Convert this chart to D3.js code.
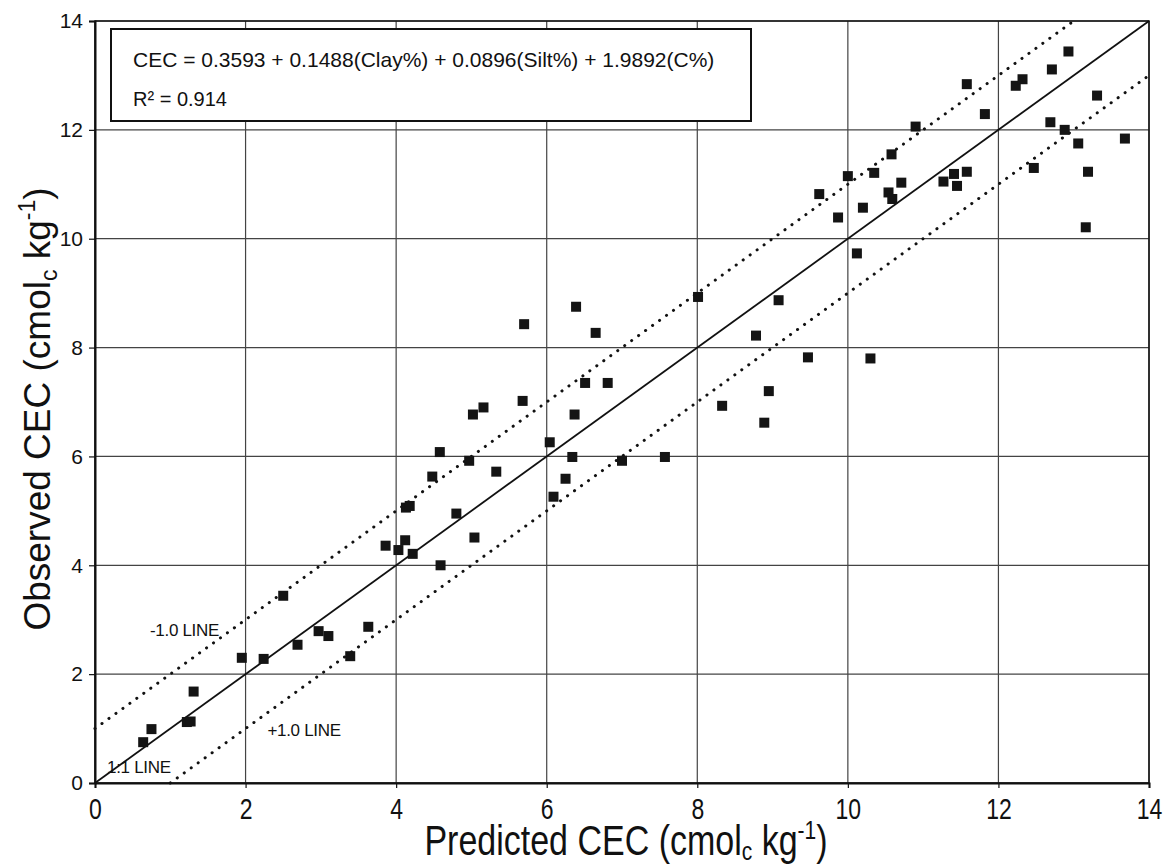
<!DOCTYPE html>
<html>
<head>
<meta charset="utf-8">
<script src="https://cdn.jsdelivr.net/npm/d3@7"></script>
<style>
  body { margin: 0; background: #fff; }
  svg text { font-family: 'Liberation Sans', Arial, sans-serif; fill: #111; }
</style>
</head>
<body>
<div id="graph"></div>
<script>
// The data...
var predicted = [ 0.64, 0.75, 1.22, 1.27, 1.31, 1.95, 2.24, 2.50, 2.69, 2.97, 3.10, 3.39, 3.63,
                  3.86, 4.03, 4.12, 4.22, 4.13, 4.18, 4.48, 4.58, 4.59, 4.80, 4.97, 5.04, 5.02,
                  5.16, 5.33, 5.68, 5.70, 6.04, 6.09, 6.25, 6.34, 6.37, 6.39, 6.51, 6.65, 6.81,
                  7.00, 7.57, 8.01, 8.33, 8.78, 8.89, 8.95, 9.08, 9.47, 9.62, 9.87, 10.00, 10.12,
                  10.20, 10.30, 10.35, 10.54, 10.59, 10.58, 10.71, 10.90, 11.27, 11.41, 11.45, 11.58,
                  11.58, 11.82, 12.23, 12.32, 12.47, 12.69, 12.71, 12.88, 12.93, 13.06, 13.16, 13.19,
                  13.31, 13.68 ];
var observed  = [ 0.75, 0.99, 1.12, 1.13, 1.68, 2.30, 2.28, 3.44, 2.54, 2.79, 2.70, 2.33, 2.87,
                  4.36, 4.28, 4.46, 4.21, 5.06, 5.09, 5.63, 6.08, 4.00, 4.95, 5.92, 4.51, 6.77,
                  6.90, 5.72, 7.02, 8.43, 6.26, 5.26, 5.59, 5.99, 6.77, 8.75, 7.35, 8.27, 7.35,
                  5.92, 5.99, 8.93, 6.93, 8.22, 6.62, 7.20, 8.87, 7.82, 10.82, 10.39, 11.15, 9.73,
                  10.57, 7.80, 11.21, 10.85, 10.73, 11.55, 11.03, 12.06, 11.05, 11.19, 10.97, 11.23,
                  12.84, 12.29, 12.81, 12.93, 11.30, 12.14, 13.11, 12.00, 13.44, 11.75, 10.21, 11.23,
                  12.63, 11.84 ];

var axisTicks   = [ 0, 2, 4, 6, 8, 10, 12, 14 ];
var refLines    = [ { name: '1:1 LINE',  x: [ 0, 14 ], y: [ 0, 14 ],  dotted: false },
                    { name: '-1.0 LINE', x: [ 0, 13 ], y: [ 1, 14 ],  dotted: true  },
                    { name: '+1.0 LINE', x: [ 1, 14 ], y: [ 0, 13 ],  dotted: true  } ];
var equationText = 'CEC = 0.3593 + 0.1488(Clay%) + 0.0896(Silt%) + 1.9892(C%)';
var r2Value      = '0.914';

// SVG size and spacing
var margin = { top: 21, right: 18, bottom: 82, left: 95 };
var width  = 1167 - margin.left - margin.right;
var height = 865 - margin.top - margin.bottom;

var svg = d3.select ('#graph').append ('svg')
            .attr ('width', 1167)
            .attr ('height', 865)
            .append ('g')
            .attr ('transform', 'translate(' + margin.left + ',' + margin.top + ')');

var xScale = d3.scaleLinear ().domain ([ 0, 14 ]).range ([ 0, width ]);
var yScale = d3.scaleLinear ().domain ([ 0, 14 ]).range ([ height, 0 ]);

// grid
svg.selectAll ('.vgrid')
   .data (axisTicks)
   .enter ()
   .append ('line')
   .attr ('x1', function (d) { return xScale (d); })
   .attr ('x2', function (d) { return xScale (d); })
   .attr ('y1', 0)
   .attr ('y2', height)
   .attr ('stroke', '#444')
   .attr ('stroke-width', 1.2);

svg.selectAll ('.hgrid')
   .data (axisTicks)
   .enter ()
   .append ('line')
   .attr ('x1', 0)
   .attr ('x2', width)
   .attr ('y1', function (d) { return yScale (d); })
   .attr ('y2', function (d) { return yScale (d); })
   .attr ('stroke', '#444')
   .attr ('stroke-width', 1.2);

// axes
var xAxis = d3.axisBottom (xScale).tickValues (axisTicks).tickSize (5);
var yAxis = d3.axisLeft (yScale).tickValues (axisTicks).tickSize (6).tickPadding (6);

var gx = svg.append ('g')
            .attr ('transform', 'translate(0,' + height + ')')
            .call (xAxis);
var gy = svg.append ('g').call (yAxis);

[ gx, gy ].forEach (function (g)
{
    g.select ('.domain').attr ('stroke', '#111').attr ('stroke-width', 2);
    g.selectAll ('.tick line').attr ('stroke', '#111').attr ('stroke-width', 1.2);
    g.selectAll ('.tick text')
     .attr ('font-size', '21px')
     .attr ('font-family', "'Liberation Sans', Arial, sans-serif")
     .attr ('fill', '#222');
});

// x tick labels are drawn taller than wide in the original
gx.selectAll ('.tick text')
  .attr ('y', 0)
  .attr ('dy', '0.36em')
  .attr ('font-size', '23px')
  .attr ('transform', 'translate(0,25) scale(1,1.32)');

// reference lines
refLines.forEach (function (r)
{
    svg.append ('line')
       .attr ('x1', xScale (r.x[0])).attr ('y1', yScale (r.y[0]))
       .attr ('x2', xScale (r.x[1])).attr ('y2', yScale (r.y[1]))
       .attr ('stroke', '#111')
       .attr ('stroke-width', r.dotted ? 3 : 1.8)
       .attr ('stroke-linecap', r.dotted ? 'round' : 'butt')
       .attr ('stroke-dasharray', r.dotted ? '0.1 8.5' : null);
});

// points
var markerSize = 10;
svg.selectAll ('.pt')
   .data (predicted)
   .enter ()
   .append ('rect')
   .attr ('x', function (d, i) { return xScale (d) - markerSize / 2; })
   .attr ('y', function (d, i) { return yScale (observed[i]) - markerSize / 2; })
   .attr ('width', markerSize)
   .attr ('height', markerSize)
   .attr ('fill', '#141414');

// line labels
var lineLabels = [ { text: refLines[1].name, x: 0.73, y: 2.7 },
                   { text: refLines[2].name, x: 2.29, y: 0.86 },
                   { text: refLines[0].name, x: 0.16, y: 0.18 } ];
svg.selectAll ('.lbl')
   .data (lineLabels)
   .enter ()
   .append ('text')
   .attr ('x', function (d) { return xScale (d.x); })
   .attr ('y', function (d) { return yScale (d.y); })
   .attr ('font-size', '17px')
   .attr ('letter-spacing', '-0.3px')
   .text (function (d) { return d.text; });

// plot border
svg.append ('rect')
   .attr ('width', width)
   .attr ('height', height)
   .attr ('fill', 'none')
   .attr ('stroke', '#111')
   .attr ('stroke-width', 1.5);

// equation box
svg.append ('rect')
   .attr ('x', 16)
   .attr ('y', 8)
   .attr ('width', 640)
   .attr ('height', 92)
   .attr ('fill', '#fff')
   .attr ('stroke', '#111')
   .attr ('stroke-width', 2);

svg.append ('text')
   .attr ('x', 38)
   .attr ('y', 46)
   .attr ('font-size', '21px')
   .text (equationText);

svg.append ('text')
   .attr ('x', 38)
   .attr ('y', 85)
   .attr ('font-size', '20px')
   .text ('R\u00B2 = ' + r2Value);

// axis titles
var xt = svg.append ('text')
            .attr ('transform', 'translate(' + (width / 2 + 4) + ',' + (height + 72) + ') scale(1,1.24)')
            .attr ('text-anchor', 'middle')
            .attr ('font-size', '34px');
xt.append ('tspan').text ('Predicted CEC (cmol');
xt.append ('tspan').attr ('dy', 4).attr ('font-size', '21px').text ('c');
xt.append ('tspan').attr ('dy', -4).text (' kg');
xt.append ('tspan').attr ('dy', -13).attr ('font-size', '21px').text ('-1');
xt.append ('tspan').attr ('dy', 13).text (')');

var yt = svg.append ('text')
            .attr ('transform', 'translate(' + (-45) + ',' + (height / 2 + 7) + ') rotate(-90)')
            .attr ('text-anchor', 'middle')
            .attr ('font-size', '37px');
yt.append ('tspan').text ('Observed CEC (cmol');
yt.append ('tspan').attr ('dy', 7).attr ('font-size', '23px').text ('c');
yt.append ('tspan').attr ('dy', -7).text (' kg');
yt.append ('tspan').attr ('dy', -15).attr ('font-size', '23px').text ('-1');
yt.append ('tspan').attr ('dy', 15).text (')');
</script>
</body>
</html>
